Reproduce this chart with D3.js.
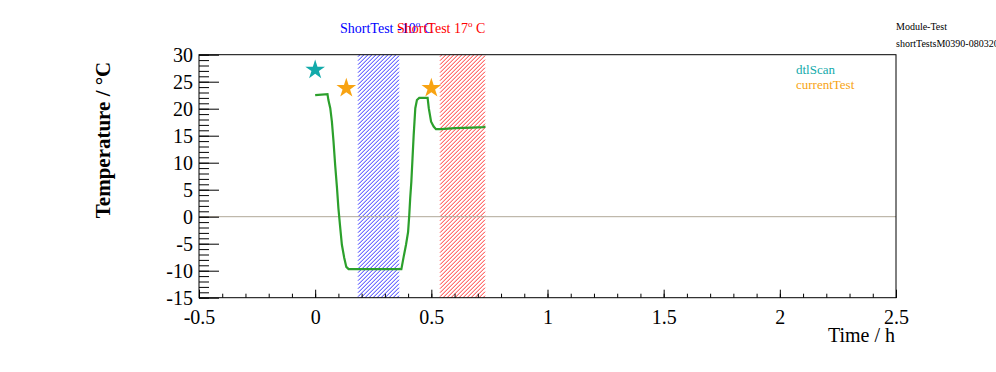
<!DOCTYPE html>
<html>
<head>
<meta charset="utf-8">
<script src="https://cdn.jsdelivr.net/npm/d3@7"></script>
<style>
  body { margin: 0; background: #fff; }
  svg { display: block; overflow: hidden; }
  text { font-family: "Liberation Serif", "Times New Roman", serif; }
</style>
</head>
<body>
<svg id="chart" width="996" height="372"></svg>
<script>
// temperature trace (time in hours, temperature in deg C)
const timeH = [0, 0.053, 0.057, 0.065, 0.072, 0.079, 0.086, 0.094, 0.100, 0.108, 0.115, 0.125, 0.134, 0.144,
    0.371, 0.381, 0.391, 0.400, 0.405, 0.409, 0.414, 0.419, 0.424, 0.431, 0.438, 0.448, 0.484, 0.489,
    0.499, 0.510, 0.520, 0.539, 0.603, 0.675, 0.725, 0.733];
const tempC = [22.5, 22.7, 21.6, 20.1, 17.6, 13.9, 9.6, 5.3, 1.6, -2.1, -5.2, -7.6, -9.3, -9.7,
    -9.7, -7.4, -5.2, -2.8, 0.3, 3.4, 6.5, 10.8, 15.1, 20.1, 21.6, 22.0, 22.0, 20.1,
    17.6, 16.7, 16.2, 16.2, 16.4, 16.5, 16.6, 16.7];

// markers
const dtlScanT = [0];
const dtlScanV = [27.2];
const currentTestT = [0.134, 0.5];
const currentTestV = [23.8, 23.8];

// short test windows
const windowLabels = ['ShortTest -10', 'ShortTest 17'];
const windowStart = [0.185, 0.539];
const windowEnd = [0.362, 0.733];
const windowColors = ['#0000ff', '#ff0000'];

const legendNames = ['dtlScan', 'currentTest'];
const legendColors = ['#12aaaa', '#f8a312'];

const xTicks = [-0.5, 0, 0.5, 1, 1.5, 2, 2.5];
const yTicks = [-15, -10, -5, 0, 5, 10, 15, 20, 25, 30];

const svg = d3.select('#chart');
const x = d3.scaleLinear().domain([-0.5, 2.5]).range([199, 896]);
const y = d3.scaleLinear().domain([-15, 30]).range([297.7, 54.7]);

// hatched windows: thin diagonal lines inside each time window
windowStart.forEach((s, i) => {
    const x0 = Math.round(x(s)), x1 = Math.round(x(windowEnd[i]));
    const y0 = y(30), y1 = y(-15);
    const segs = [];
    for (let k = x0 + y0 + 2; k < x1 + y1; k += 4) {
        const ax = Math.max(x0, k - y1), bx = Math.min(x1, k - y0);
        if (bx > ax) segs.push([ax, k - ax, bx, k - bx]);
    }
    svg.append('g').selectAll('line').data(segs).join('line')
        .attr('x1', d => d[0]).attr('y1', d => d[1])
        .attr('x2', d => d[2]).attr('y2', d => d[3])
        .attr('stroke', windowColors[i])
        .attr('stroke-width', 0.8);
});

// zero line
svg.append('line')
    .attr('x1', x(-0.5)).attr('x2', x(2.5))
    .attr('y1', y(0)).attr('y2', y(0))
    .attr('stroke', '#b0a898').attr('stroke-width', 1);

// axes
const fmt = d => String(d);
const xMinor = d3.range(-0.5, 2.5001, 0.1);
const yMinor = d3.range(-15, 30.001, 1);
svg.append('g')
    .attr('transform', 'translate(0,' + y(-15) + ')')
    .call(d3.axisBottom(x).tickValues(xMinor).tickSize(-4).tickFormat(''))
    .call(g => g.select('.domain').remove());
svg.append('g')
    .attr('class', 'xaxis')
    .attr('transform', 'translate(0,' + y(-15) + ')')
    .call(d3.axisBottom(x).tickValues(xTicks).tickSize(-8).tickPadding(11).tickFormat(fmt))
    .call(g => g.select('.domain').remove());
svg.append('g')
    .attr('transform', 'translate(' + x(-0.5) + ',0)')
    .call(d3.axisLeft(y).tickValues(yMinor).tickSize(-10).tickFormat(''))
    .call(g => g.select('.domain').remove());
svg.append('g')
    .attr('class', 'yaxis')
    .attr('transform', 'translate(' + x(-0.5) + ',0)')
    .call(d3.axisLeft(y).tickValues(yTicks).tickSize(-20).tickPadding(6).tickFormat(fmt))
    .call(g => g.select('.domain').remove());

svg.selectAll('.tick line').attr('stroke', '#000');
svg.selectAll('.xaxis text, .yaxis text')
    .attr('font-size', 20)
    .attr('font-family', '"Liberation Serif", serif')
    .attr('fill', '#000');
svg.selectAll('.xaxis text').attr('dy', '0.75em');
svg.selectAll('.yaxis text').attr('x', -6).attr('dy', '0.36em');

// frame
svg.append('rect')
    .attr('x', x(-0.5)).attr('y', y(30))
    .attr('width', x(2.5) - x(-0.5))
    .attr('height', y(-15) - y(30))
    .attr('fill', 'none').attr('stroke', '#000').attr('stroke-width', 1);

// temperature curve
const line = d3.line().x((d, i) => x(timeH[i])).y(d => y(d));
svg.append('path')
    .datum(tempC)
    .attr('d', line)
    .attr('fill', 'none')
    .attr('stroke', '#2ca02c')
    .attr('stroke-width', 2.2);

// stars
const star = d3.symbol().type(d3.symbolStar).size(120);
dtlScanT.forEach((t, i) => {
    svg.append('path').attr('d', star)
        .attr('transform', 'translate(' + x(t) + ',' + y(dtlScanV[i]) + ')')
        .attr('fill', legendColors[0]);
});
currentTestT.forEach((t, i) => {
    svg.append('path').attr('d', star)
        .attr('transform', 'translate(' + x(t) + ',' + y(currentTestV[i]) + ')')
        .attr('fill', legendColors[1]);
});

// window labels
windowLabels.forEach((l, i) => {
    const t = svg.append('text')
        .attr('x', i === 0 ? 340 : 397)
        .attr('y', 33)
        .attr('font-size', 14)
        .attr('fill', windowColors[i]);
    t.append('tspan').text(l);
    t.append('tspan').attr('dy', -6).attr('font-size', 9).text('o');
    t.append('tspan').attr('dy', 6).text(' C');
});

// top right info
svg.append('text').attr('x', 896).attr('y', 30).attr('font-size', 10).text('Module-Test');
svg.append('text').attr('x', 896).attr('y', 47).attr('font-size', 10).text('shortTestsM0390-08032011');

// legend
legendNames.forEach((n, i) => {
    svg.append('text')
        .attr('x', 796).attr('y', 74 + i * 15)
        .attr('font-size', 13)
        .attr('fill', legendColors[i])
        .text(n);
});

// axis titles
svg.append('text')
    .attr('x', 895).attr('y', 342)
    .attr('text-anchor', 'end')
    .attr('font-size', 20)
    .text('Time / h');
svg.append('text')
    .attr('transform', 'translate(110,140) rotate(-90)')
    .attr('text-anchor', 'middle')
    .attr('font-family', '"Liberation Sans", Arial, sans-serif')
    .attr('font-weight', 'bold')
    .attr('font-size', 21)
    .text('Temperature / °C');
</script>
</body>
</html>
